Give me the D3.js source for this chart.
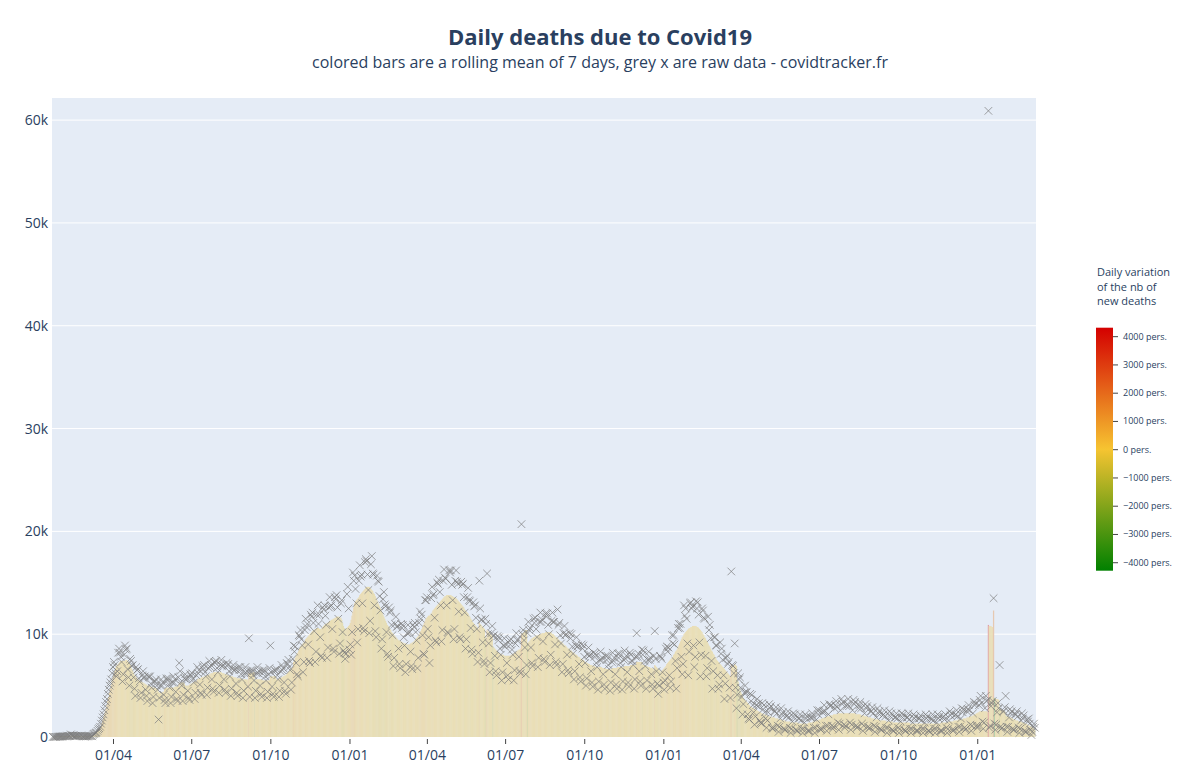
<!DOCTYPE html>
<html><head><meta charset="utf-8">
<script src="https://cdn.jsdelivr.net/npm/d3@7"></script>
<style>body{margin:0;background:#fff}svg{display:block;font-family:"Open Sans",sans-serif}</style>
</head><body><svg id="c" width="1200" height="764"></svg>
<script>
// ---- DATA (values in thousands of deaths, one line per week, Wed..Tue) ----
const startDate = "2020-01-22";
const rollingMeanK = [
0.02,0.02,0.02,0.03,0.03,0.04,0.05,
0.05,0.06,0.06,0.07,0.07,0.08,0.08,
0.08,0.09,0.09,0.09,0.09,0.1,0.1,
0.12,0.12,0.13,0.13,0.13,0.12,0.12,
0.1,0.1,0.1,0.1,0.09,0.08,0.07,
0.07,0.07,0.06,0.06,0.06,0.06,0.06,
0.07,0.08,0.1,0.11,0.13,0.16,0.2,
0.3,0.36,0.43,0.52,0.62,0.72,0.85,
1.0,1.3,1.6,1.9,2.2,2.5,2.8,
3.1,3.5,3.9,4.3,4.7,5.1,5.5,
5.8,6.1,6.4,6.7,6.9,7.0,7.1,
7.2,7.3,7.4,7.4,7.4,7.4,7.4,
7.4,7.5,7.5,7.4,7.3,7.2,7.0,
6.8,6.6,6.4,6.2,6.0,5.9,5.8,
5.7,5.6,5.5,5.5,5.4,5.4,5.3,
5.3,5.2,5.2,5.1,5.1,5.0,5.0,
5.0,4.9,4.9,4.9,4.8,4.8,4.8,
4.8,4.7,4.7,4.6,4.4,4.3,4.3,
4.3,4.3,4.4,4.4,4.7,4.7,4.8,
4.8,4.8,4.8,4.8,4.8,4.8,4.8,
4.8,4.8,4.9,4.9,4.9,4.9,5.0,
5.2,5.3,5.3,5.3,5.3,5.3,5.2,
5.0,5.0,5.0,5.0,5.0,5.1,5.1,
5.2,5.2,5.3,5.3,5.4,5.4,5.4,
5.6,5.6,5.7,5.7,5.7,5.8,5.8,
5.8,5.9,5.9,5.9,6.0,6.0,6.0,
6.1,6.1,6.2,6.2,6.2,6.3,6.3,
6.3,6.3,6.3,6.3,6.3,6.3,6.3,
6.3,6.2,6.2,6.2,6.1,6.1,6.1,
6.0,6.0,6.0,5.9,5.9,5.9,5.9,
5.8,5.8,5.8,5.8,5.7,5.7,5.7,
5.7,5.7,5.7,5.6,5.6,5.6,5.6,
5.6,5.6,5.6,5.5,6.2,6.2,6.2,
6.2,6.2,6.3,6.3,5.6,5.6,5.6,
5.6,5.6,5.6,5.6,5.6,5.6,5.5,
5.5,5.5,5.5,5.5,5.5,5.5,5.5,
5.5,5.9,5.9,5.9,5.9,5.9,5.9,
5.9,5.6,5.6,5.6,5.7,5.7,5.7,
5.8,5.8,5.9,5.9,6.0,6.0,6.1,
6.2,6.3,6.4,6.5,6.6,6.7,6.8,
7.3,7.5,7.7,7.9,8.1,8.2,8.4,
8.6,8.8,8.9,9.0,9.1,9.2,9.3,
9.5,9.6,9.7,9.8,9.9,10.0,10.1,
10.2,10.3,10.4,10.4,10.5,10.5,10.6,
10.6,10.6,10.5,10.5,10.5,10.6,10.7,
10.8,10.9,11.0,11.0,11.1,11.1,11.2,
11.3,11.3,11.4,11.4,11.5,11.5,11.6,
11.6,11.7,11.7,11.7,11.7,11.6,11.6,
11.4,11.1,10.8,10.6,10.5,10.5,10.6,
10.7,10.8,10.9,11.1,11.4,11.8,12.2,
12.6,13.0,13.2,13.3,13.4,13.5,13.6,
13.8,13.9,14.0,14.1,14.2,14.3,14.4,
14.5,14.6,14.6,14.6,14.6,14.5,14.4,
14.3,14.2,14.0,13.9,13.7,13.5,13.3,
13.1,12.9,12.7,12.5,12.3,12.1,11.9,
11.7,11.5,11.3,11.1,10.9,10.8,10.7,
10.5,10.4,10.2,10.1,10.0,9.9,9.8,
9.7,9.6,9.5,9.4,9.4,9.3,9.3,
9.2,9.2,9.1,9.1,9.1,9.0,9.0,
9.0,9.0,9.0,9.1,9.1,9.2,9.2,
9.3,9.4,9.5,9.6,9.7,9.8,9.9,
10.1,10.3,10.5,10.7,10.9,11.1,11.3,
11.5,11.6,11.7,11.8,11.8,11.9,12.0,
12.1,12.3,12.4,12.5,12.6,12.7,12.8,
12.9,13.0,13.1,13.2,13.3,13.4,13.5,
13.6,13.7,13.7,13.8,13.8,13.8,13.8,
13.8,13.8,13.7,13.7,13.6,13.6,13.5,
13.5,13.4,13.3,13.2,13.1,13.0,12.9,
12.8,12.7,12.6,12.4,12.3,12.2,12.1,
12.0,11.8,11.7,11.5,11.4,11.2,11.1,
11.0,10.9,10.8,10.7,10.6,10.5,11.1,
11.0,10.9,10.8,10.7,10.6,10.5,9.7,
9.6,10.4,10.3,10.2,10.1,10.0,9.9,
9.8,8.8,8.7,8.6,8.5,8.4,8.3,
8.2,8.2,8.1,8.1,8.0,8.0,8.0,
7.9,7.9,7.9,7.9,7.9,7.9,7.9,
7.9,8.0,8.0,8.1,8.1,8.2,8.2,
8.3,8.4,8.4,8.5,8.5,8.6,10.0,
10.1,10.1,10.2,10.3,10.4,10.4,9.1,
9.2,9.3,9.4,9.5,9.6,9.6,9.7,
9.7,9.8,9.8,9.9,9.9,9.9,10.0,
10.0,10.0,10.1,10.1,10.1,10.1,10.2,
10.2,10.2,10.2,10.2,10.2,10.2,10.1,
10.0,10.0,9.9,9.8,9.7,9.7,9.6,
9.5,9.4,9.3,9.3,9.2,9.1,9.0,
8.9,8.9,8.8,8.7,8.6,8.6,8.5,
8.4,8.4,8.3,8.2,8.2,8.1,8.0,
8.0,7.9,7.8,7.8,7.7,7.6,7.6,
7.5,7.5,7.4,7.3,7.3,7.2,7.2,
7.1,7.1,7.0,7.0,7.0,6.9,6.9,
6.9,6.8,6.8,6.8,6.8,6.8,6.8,
6.8,6.8,6.7,6.7,6.7,6.7,6.6,
6.6,6.6,6.6,6.6,6.6,6.6,6.6,
6.7,6.7,6.7,6.7,6.7,6.7,6.8,
6.8,6.8,6.8,6.8,6.8,6.8,6.8,
6.9,6.9,6.9,6.9,6.9,6.9,6.9,
7.0,7.0,7.0,7.0,7.0,7.0,7.0,
7.3,7.3,7.3,7.3,7.3,7.3,7.3,
7.0,7.0,7.0,6.9,6.9,6.9,6.8,
6.8,6.8,6.7,6.7,6.7,6.6,6.6,
7.0,6.9,6.8,6.7,6.6,6.5,6.5,
6.3,6.4,6.5,6.6,6.7,6.8,6.9,
7.1,7.2,7.3,7.4,7.5,7.6,7.7,
7.8,8.0,8.1,8.3,8.4,8.5,8.7,
8.9,9.1,9.3,9.5,9.7,9.8,10.0,
10.1,10.2,10.3,10.4,10.5,10.6,10.6,
10.7,10.7,10.8,10.8,10.8,10.8,10.8,
10.7,10.7,10.6,10.5,10.4,10.3,10.2,
10.0,9.9,9.7,9.6,9.4,9.3,9.1,
8.9,8.8,8.6,8.4,8.3,8.1,8.0,
7.8,7.7,7.5,7.4,7.3,7.2,7.1,
7.0,6.9,6.8,6.7,6.6,6.5,6.4,
6.3,6.2,6.1,6.0,5.9,7.1,7.0,
6.9,6.8,7.1,7.0,6.9,5.5,5.4,
4.9,4.6,4.4,4.2,4.0,3.8,3.7,
3.6,3.5,3.4,3.3,3.2,3.1,3.0,
2.9,2.9,2.8,2.8,2.7,2.7,2.6,
2.6,2.5,2.5,2.4,2.4,2.3,2.3,
2.2,2.2,2.2,2.1,2.1,2.1,2.0,
2.0,2.0,2.0,1.9,1.9,1.9,1.9,
1.8,1.8,1.8,1.8,1.7,1.7,1.7,
1.7,1.6,1.6,1.6,1.6,1.5,1.5,
1.5,1.5,1.5,1.5,1.4,1.4,1.4,
1.4,1.4,1.4,1.4,1.4,1.4,1.3,
1.3,1.3,1.3,1.3,1.3,1.3,1.3,
1.3,1.3,1.3,1.3,1.4,1.4,1.4,
1.4,1.4,1.5,1.5,1.5,1.5,1.6,
1.6,1.6,1.7,1.7,1.7,1.8,1.8,
1.8,1.9,1.9,1.9,2.0,2.0,2.0,
2.0,2.1,2.1,2.1,2.1,2.2,2.2,
2.2,2.2,2.2,2.3,2.3,2.3,2.3,
2.3,2.3,2.3,2.3,2.3,2.3,2.3,
2.3,2.3,2.3,2.3,2.3,2.3,2.3,
2.3,2.3,2.3,2.2,2.2,2.2,2.2,
2.2,2.2,2.1,2.1,2.1,2.1,2.0,
2.0,2.0,2.0,1.9,1.9,1.9,1.9,
1.8,1.8,1.8,1.8,1.7,1.7,1.7,
1.7,1.7,1.6,1.6,1.6,1.6,1.6,
1.6,1.6,1.6,1.5,1.5,1.5,1.5,
1.5,1.5,1.5,1.5,1.4,1.4,1.4,
1.4,1.4,1.4,1.4,1.4,1.4,1.4,
1.4,1.4,1.4,1.4,1.4,1.4,1.4,
1.4,1.4,1.4,1.3,1.3,1.3,1.3,
1.3,1.3,1.3,1.3,1.3,1.3,1.3,
1.3,1.3,1.3,1.3,1.3,1.3,1.3,
1.3,1.3,1.3,1.3,1.3,1.3,1.3,
1.3,1.3,1.3,1.3,1.3,1.3,1.3,
1.3,1.3,1.3,1.3,1.4,1.4,1.4,
1.4,1.4,1.4,1.4,1.4,1.4,1.5,
1.5,1.5,1.5,1.5,1.5,1.6,1.6,
1.6,1.6,1.6,1.7,1.7,1.7,1.7,
1.7,1.7,1.8,1.8,1.8,1.8,1.9,
1.9,1.9,2.0,2.0,2.0,2.0,2.1,
2.1,2.2,2.2,2.3,2.3,2.4,2.4,
2.5,2.5,2.5,2.5,2.5,2.5,2.5,
2.5,2.5,2.4,10.9,10.8,10.8,10.8,
10.7,10.7,12.3,3.8,3.8,3.7,3.7,
3.7,3.6,2.7,2.7,2.6,2.6,2.6,
2.5,2.5,2.1,2.0,2.0,2.0,1.9,
1.9,1.9,1.8,1.8,1.7,1.7,1.7,
1.6,1.6,1.6,1.5,1.5,1.5,1.5,
1.4,1.4,1.4,1.3,1.3,1.3,1.2,
1.2,1.1,1.1,1.0,1.0,0.9,0.9,
0.8,0.7];
const rawDeathsK = [
0.02,0.0,0.01,0.02,0.01,0.03,0.03,
0.04,0.04,0.05,0.05,0.06,0.06,0.07,
0.07,0.07,0.08,0.09,0.1,0.1,0.11,
0.25,0.14,0.14,0.15,0.1,0.11,0.1,
0.12,0.11,0.12,0.1,0.09,0.15,0.07,
0.06,0.06,0.06,0.07,0.06,0.07,0.08,
0.09,0.1,0.1,0.1,0.09,0.22,0.3,
0.35,0.4,0.45,0.6,0.75,0.85,1.0,
1.3,1.6,1.9,2.2,2.6,3.0,3.4,
3.7,4.2,4.6,5.0,5.3,5.6,6.2,
6.8,7.3,7.0,6.2,5.9,6.4,8.2,
8.6,8.2,7.8,7.3,5.4,6.1,8.0,
8.9,8.5,8.6,6.6,5.8,5.0,7.6,
7.4,6.9,7.0,5.8,4.7,4.0,6.8,
6.5,6.6,5.7,5.4,3.8,4.3,6.0,
6.4,5.7,5.9,4.6,4.0,3.5,5.9,
5.8,5.9,5.2,4.8,3.3,3.9,5.4,
5.4,5.6,5.0,4.6,1.7,3.8,5.0,
5.6,5.0,5.3,4.1,3.6,3.3,5.7,
5.5,5.7,5.1,4.8,3.3,3.9,5.3,
5.9,5.3,5.6,4.4,3.7,3.5,5.8,
7.2,6.4,5.3,5.0,3.5,4.1,5.7,
6.1,5.6,5.7,4.5,3.8,3.6,6.1,
5.9,6.2,5.6,5.3,3.7,4.3,6.0,
6.8,6.2,6.5,5.1,4.3,4.1,6.9,
6.6,7.0,6.3,5.9,4.1,4.8,6.7,
7.4,6.8,7.0,5.6,4.7,4.4,7.3,
7.2,7.4,6.7,6.3,4.3,5.0,7.0,
7.5,6.9,7.0,5.6,4.6,4.3,7.2,
6.9,7.1,6.4,5.9,4.0,4.7,6.6,
7.0,6.5,6.6,5.2,4.3,4.0,6.8,
6.5,6.8,6.1,5.6,3.8,4.5,6.2,
6.8,6.2,6.4,4.9,9.6,3.9,6.5,
6.3,6.5,6.0,5.5,3.8,4.5,6.2,
6.8,6.2,6.4,5.0,4.2,3.9,6.5,
6.3,6.5,5.9,5.5,3.8,4.4,6.1,
6.7,8.9,6.3,4.9,4.2,3.9,6.5,
6.4,6.6,6.0,5.6,3.9,4.5,6.4,
7.0,6.5,6.7,5.3,4.5,4.2,7.2,
7.1,7.5,6.8,6.5,4.6,5.3,7.6,
8.9,8.3,8.8,7.2,6.1,5.9,9.9,
9.8,10.4,9.5,8.9,6.3,7.3,10.4,
11.5,10.7,11.0,9.0,7.4,7.2,11.9,
11.7,12.1,11.1,10.3,7.3,8.3,11.9,
12.8,11.0,11.9,9.7,7.9,7.7,12.6,
12.4,12.8,11.8,10.9,7.7,8.7,12.6,
13.6,12.7,12.8,10.5,8.6,8.3,13.6,
13.4,13.8,12.6,11.5,8.1,9.1,13.0,
13.3,10.2,8.4,8.2,7.6,8.1,13.9,
14.6,12.5,8.5,9.0,8.0,10.2,16.0,
15.2,15.7,14.4,13.0,9.2,10.5,15.2,
16.7,15.6,15.8,13.0,10.6,10.3,17.0,
17.3,17.1,15.8,14.3,10.1,11.3,16.8,
17.6,15.9,15.8,12.8,10.3,9.7,15.7,
15.2,15.1,13.7,12.3,8.6,9.5,13.4,
14.1,12.9,12.7,10.2,8.1,7.8,12.6,
12.1,12.3,10.9,9.9,6.9,7.7,11.0,
11.7,10.7,10.8,8.6,7.1,6.7,11.0,
10.6,10.9,9.7,8.9,6.3,7.1,10.1,
10.9,10.1,10.2,8.3,6.9,6.6,10.9,
10.7,11.1,10.2,9.4,6.7,7.7,11.1,
12.2,11.5,11.9,9.9,8.1,8.0,13.3,
13.3,13.6,10.5,9.7,7.2,8.9,13.5,
14.6,13.8,13.9,11.6,9.4,9.2,15.0,
14.9,15.3,14.1,12.8,9.3,10.4,15.2,
16.3,15.5,15.4,12.8,10.2,10.1,16.2,
16.0,16.2,14.8,13.3,9.5,10.5,15.2,
16.2,15.1,14.9,12.2,9.7,9.5,15.1,
14.8,14.9,13.6,12.1,8.6,9.5,13.6,
14.5,13.3,13.2,10.6,8.5,8.1,13.1,
12.7,12.8,11.6,10.5,7.3,8.2,15.2,
12.5,11.4,11.4,9.2,7.4,7.1,11.5,
11.0,15.9,10.0,9.1,6.3,7.2,10.1,
10.8,9.8,9.9,7.9,6.4,6.0,9.8,
9.4,9.7,8.6,8.0,5.5,6.3,8.9,
9.6,8.8,9.0,7.2,6.0,5.6,9.4,
9.0,9.5,8.5,8.0,5.5,6.5,9.1,
10.1,9.4,9.5,7.8,6.4,6.2,20.7,
10.0,10.4,9.4,8.7,6.1,7.0,10.1,
11.2,10.4,10.6,8.7,7.2,6.9,11.5,
11.1,11.6,10.5,9.7,6.8,7.7,11.2,
12.1,11.2,11.4,9.3,7.6,7.3,12.0,
11.7,12.0,10.9,10.0,7.0,8.0,11.3,
12.1,11.2,11.2,9.0,7.3,7.0,12.4,
10.9,11.1,9.9,9.1,6.3,7.1,10.1,
10.8,9.9,10.0,8.0,6.5,6.2,10.1,
9.6,10.0,8.8,8.1,5.6,6.4,8.9,
9.7,8.8,8.9,7.1,5.8,5.4,9.0,
8.6,8.9,7.8,7.2,5.0,5.7,8.0,
8.7,7.9,8.0,6.4,5.3,4.9,8.2,
7.8,8.1,7.2,6.8,4.6,5.4,7.5,
8.3,7.5,7.7,6.1,5.1,4.7,7.9,
7.5,7.9,7.0,6.6,4.5,5.3,7.3,
8.2,7.4,7.7,6.1,5.1,4.7,8.1,
7.7,8.1,7.2,6.8,4.6,5.4,7.5,
8.4,7.6,7.9,6.3,5.3,4.9,8.2,
8.0,7.4,7.4,7.0,4.7,5.6,7.8,
10.1,7.8,8.1,6.4,5.4,5.0,8.5,
8.0,8.4,7.4,6.9,4.7,5.5,7.5,
8.3,7.5,7.7,6.1,5.1,4.7,7.9,
10.3,7.6,6.4,5.2,4.2,5.0,7.9,
7.8,7.6,6.3,5.3,4.6,5.5,8.6,
8.8,8.3,8.7,6.0,4.8,5.4,9.9,
9.1,9.9,9.0,7.4,4.7,6.7,10.6,
11.0,10.6,11.0,7.8,6.1,7.1,12.8,
11.8,12.5,11.5,9.1,6.0,8.3,13.0,
13.1,12.5,12.7,8.9,6.8,7.8,13.2,
12.5,13.1,11.9,9.2,5.9,8.0,12.5,
12.3,11.6,11.5,7.9,5.9,6.7,11.7,
10.4,10.9,9.6,7.4,4.7,6.4,9.7,
9.7,8.9,8.9,6.0,4.7,5.1,9.2,
8.1,8.6,7.5,6.0,3.7,5.2,7.7,
7.9,7.1,7.3,4.8,3.8,16.1,7.0,
6.9,6.2,9.1,4.8,2.8,4.1,6.2,
5.6,5.8,4.8,3.9,2.2,3.2,4.3,
5.0,4.3,4.4,2.2,1.8,1.7,4.2,
3.5,4.1,3.1,2.4,1.2,2.0,3.1,
3.7,3.0,3.3,1.6,1.4,1.3,3.3,
2.7,3.1,2.4,1.8,0.9,1.6,2.4,
3.2,2.8,3.0,0.9,0.8,0.9,2.5,
2.5,2.9,2.3,1.1,0.5,1.0,1.8,
2.8,2.2,2.4,0.8,0.7,0.7,2.0,
2.1,2.5,1.9,0.9,0.4,0.8,1.5,
2.3,1.9,2.2,0.7,0.6,0.6,1.8,
1.8,2.2,1.6,0.8,0.4,0.8,1.4,
2.2,1.8,2.0,0.6,0.6,0.6,1.9,
1.9,2.3,1.9,0.9,0.4,0.9,1.7,
2.6,2.2,2.6,0.8,0.7,0.8,2.4,
2.5,3.1,2.5,1.1,0.6,1.1,2.2,
3.2,3.0,3.1,1.1,0.8,1.0,2.8,
3.1,3.5,2.9,1.4,0.7,1.3,2.6,
3.7,3.2,3.4,1.2,0.9,1.1,3.0,
3.2,3.7,3.0,1.4,0.7,1.2,2.6,
3.6,3.2,3.4,1.1,0.9,1.0,2.8,
3.1,3.4,2.8,1.3,0.6,1.1,2.3,
3.2,2.8,3.0,1.0,0.8,0.9,2.5,
2.5,2.9,2.3,1.1,0.5,1.0,1.9,
2.8,2.3,2.5,0.8,0.7,0.7,2.1,
2.2,2.6,2.0,0.9,0.4,0.9,1.6,
2.5,2.0,2.3,0.7,0.6,0.6,1.9,
1.9,2.3,1.8,0.9,0.4,0.8,1.5,
2.3,1.9,2.2,0.7,0.6,0.6,1.9,
1.9,2.3,1.7,0.8,0.4,0.8,1.4,
2.2,1.8,2.0,0.6,0.6,0.6,1.8,
1.8,2.1,1.6,0.8,0.4,0.8,1.4,
2.2,1.8,2.0,0.6,0.6,0.5,1.8,
1.7,2.2,1.6,0.8,0.4,0.8,1.4,
2.2,1.8,2.0,0.6,0.6,0.6,1.9,
2.0,1.7,2.2,0.9,0.4,0.8,1.6,
2.5,2.1,2.3,0.7,0.6,0.7,2.1,
2.2,2.6,2.0,1.0,0.5,1.0,1.8,
2.8,2.4,2.7,0.9,0.7,0.8,2.5,
2.7,3.1,2.6,1.2,0.6,1.1,2.3,
3.4,3.1,3.3,1.1,0.9,1.1,3.1,
3.6,4.0,3.3,1.5,0.8,1.4,2.8,
4.0,3.5,3.6,60.9,0.9,1.1,3.0,
3.3,3.5,13.5,1.3,0.7,1.2,2.4,
3.3,2.8,7.0,1.0,0.8,0.9,2.5,
2.5,2.9,4.0,1.0,0.5,1.0,1.9,
2.7,2.3,2.5,0.8,0.7,0.7,2.2,
2.2,2.5,2.0,0.9,0.4,0.8,1.6,
2.3,1.8,2.1,0.6,0.5,0.5,1.7,
1.5,1.8,1.3,0.7,0.2,0.5,1.0,
1.3,0.9];
const yTicksK = [0, 10, 20, 30, 40, 50, 60];
const xTickDates = ["2020-04-01","2020-07-01","2020-10-01","2021-01-01","2021-04-01","2021-07-01","2021-10-01","2022-01-01","2022-04-01","2022-07-01","2022-10-01","2023-01-01"];
const xTickLabels = ["01/04","01/07","01/10","01/01","01/04","01/07","01/10","01/01","01/04","01/07","01/10","01/01"];
const colorbarTicks = [-4000,-3000,-2000,-1000,0,1000,2000,3000,4000];
const colorbarTitle = ["Daily variation","of the nb of","new deaths"];
const titleText = "Daily deaths due to Covid19";
const subtitleText = "colored bars are a rolling mean of 7 days, grey x are raw data - covidtracker.fr";

// ---- CHART ----
const W = 1200, H = 764;
const P = {l: 52, r: 1036, t: 98, b: 737};
const ink = "#2a3f5f";
const svg = d3.select("#c");
svg.append("rect").attr("width", W).attr("height", H).attr("fill", "#fff");

const parse = d3.utcParse("%Y-%m-%d");
const t0 = parse(startDate);
const dates = rollingMeanK.map((_, i) => d3.utcDay.offset(t0, i));

const x = d3.scaleUtc()
  .domain([new Date(Date.UTC(2020, 0, 21, 2)), new Date(Date.UTC(2023, 2, 10, 8))])
  .range([P.l, P.r]);
const y = d3.scaleLinear().domain([0, 62.15]).range([P.b, P.t]);

const color = d3.scaleLinear().domain([-4300, 0, 4300])
  .range(["#008000", "#f6c431", "#d40000"]).clamp(true);
const bg = "#E5ECF6";

svg.append("rect").attr("x", P.l).attr("y", P.t)
  .attr("width", P.r - P.l).attr("height", P.b - P.t).attr("fill", bg);

// grid
svg.append("g").selectAll("line").data(yTicksK.filter(d => d > 0)).join("line")
  .attr("x1", P.l).attr("x2", P.r)
  .attr("y1", d => y(d)).attr("y2", d => y(d))
  .attr("stroke", "#fff").attr("stroke-width", 1);

// bars
const step = x(d3.utcDay.offset(t0, 1)) - x(t0);
const bars = rollingMeanK.map((v, i) => ({
  d: dates[i], v,
  varia: i === 0 ? 0 : (v - rollingMeanK[i - 1]) * 1000
}));
svg.append("g").selectAll("rect").data(bars).join("rect")
  .attr("x", b => x(b.d) - step / 2 - 0.2)
  .attr("width", step + 0.4)
  .attr("y", b => y(b.v))
  .attr("height", b => y(0) - y(b.v))
  .attr("fill", b => d3.interpolateRgb(bg, color(b.varia))(0.32));

// markers (x-thin)
const s = 3.8;
svg.append("g").attr("fill", "none").attr("stroke", "#7a7a7a")
  .attr("stroke-opacity", 0.7).attr("stroke-width", 1)
  .selectAll("path").data(rawDeathsK.map((v, i) => ({d: dates[i], v}))).join("path")
  .attr("d", p => {
    const cx = x(p.d), cy = y(p.v);
    return `M${cx - s},${cy - s}L${cx + s},${cy + s}M${cx - s},${cy + s}L${cx + s},${cy - s}`;
  });

// y axis
const yAxis = d3.axisLeft(y).tickValues(yTicksK)
  .tickFormat(d => d === 0 ? "0" : d + "k").tickSize(0).tickPadding(4);
const gy = svg.append("g").attr("transform", `translate(${P.l},0)`).call(yAxis);
gy.select(".domain").remove();
gy.selectAll("text").attr("fill", ink).attr("font-size", 14)
  .attr("font-family", '"Open Sans", sans-serif');

// x axis
const xt = xTickDates.map(parse);
const xAxis = d3.axisBottom(x).tickValues(xt)
  .tickFormat((d, i) => xTickLabels[i]).tickSize(5).tickPadding(6);
const gx = svg.append("g").attr("transform", `translate(0,${P.b + 2})`).call(xAxis);
gx.select(".domain").remove();
gx.selectAll("line").attr("stroke", "#444");
gx.selectAll("text").attr("fill", ink).attr("font-size", 14)
  .attr("font-family", '"Open Sans", sans-serif');

// titles
svg.append("text").attr("x", 600).attr("y", 45).attr("text-anchor", "middle")
  .attr("font-size", 22).attr("font-weight", "bold").attr("fill", ink).text(titleText);
svg.append("text").attr("x", 600).attr("y", 68).attr("text-anchor", "middle")
  .attr("font-size", 16).attr("fill", ink).text(subtitleText);

// colorbar
const cb = {x: 1096, w: 17, top: 327.7, bot: 570.7};
const cbScale = d3.scaleLinear().domain([-4300, 4300]).range([cb.bot, cb.top]);
const defs = svg.append("defs");
const grad = defs.append("linearGradient").attr("id", "cbg")
  .attr("x1", 0).attr("y1", 1).attr("x2", 0).attr("y2", 0);
d3.range(0, 1.0001, 0.05).forEach(f => {
  grad.append("stop").attr("offset", f).attr("stop-color", color(-4300 + f * 8600));
});
svg.append("rect").attr("x", cb.x).attr("y", cb.top).attr("width", cb.w)
  .attr("height", cb.bot - cb.top).attr("fill", "url(#cbg)");
const cbAxis = d3.axisRight(cbScale).tickValues(colorbarTicks)
  .tickFormat(d => d3.format("")(d) + " pers.").tickSize(5).tickPadding(5);
const gc = svg.append("g").attr("transform", `translate(${cb.x + cb.w},0)`).call(cbAxis);
gc.select(".domain").remove();
gc.selectAll("line").attr("stroke", "#444");
gc.selectAll("text").attr("fill", ink).attr("font-size", 9)
  .attr("font-family", '"Open Sans", sans-serif');
svg.append("g").selectAll("text").data(colorbarTitle).join("text")
  .attr("x", cb.x + 1).attr("y", (d, i) => 276 + i * 14.5)
  .attr("font-size", 11).attr("fill", ink).text(d => d);
</script></body></html>
